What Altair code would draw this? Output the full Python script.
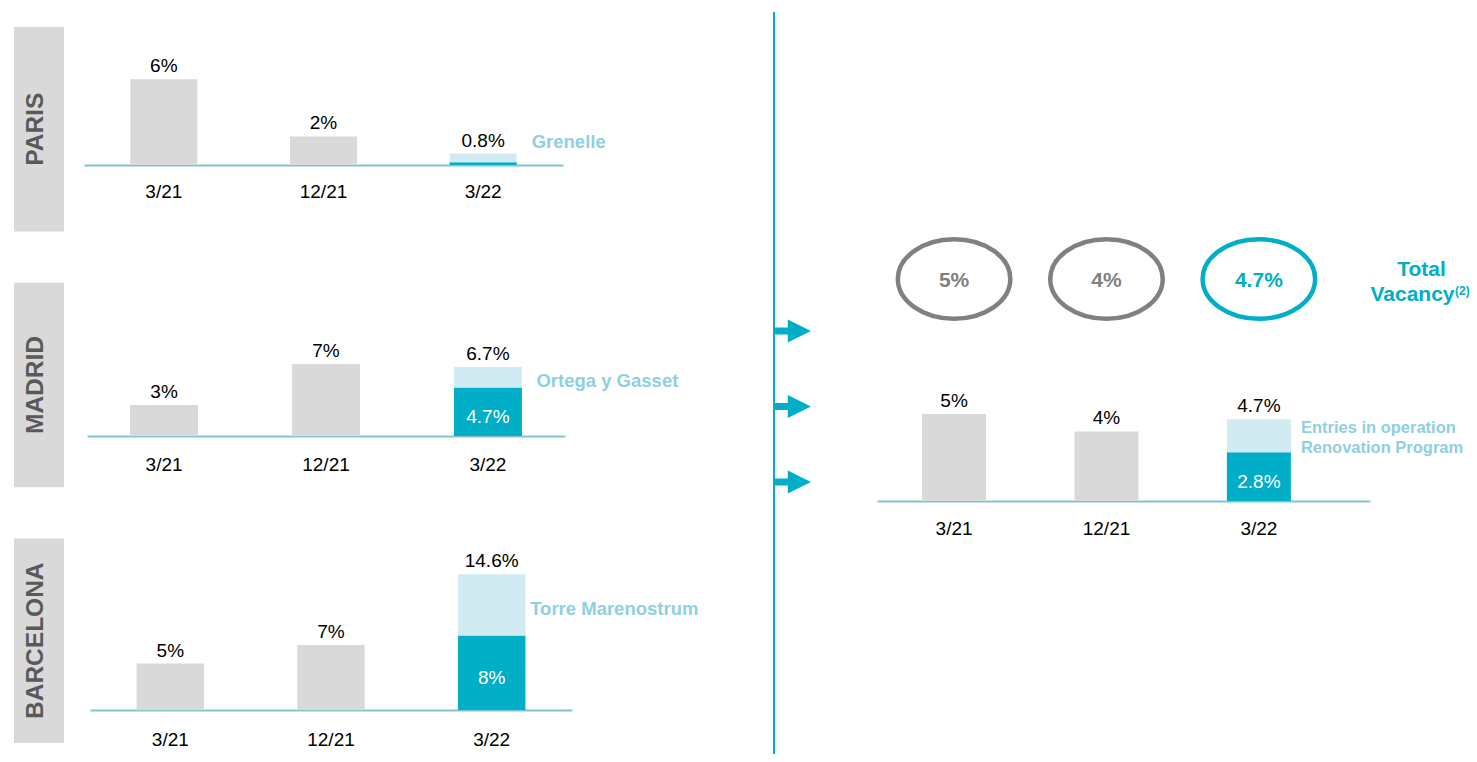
import altair as alt
import pandas as pd

# ---------------- data ----------------
periods = ["3/21", "12/21", "3/22"]
cities = ["PARIS", "MADRID", "BARCELONA"]

paris_total = [6, 2, 0.8]
paris_base = 0.2
madrid_total = [3, 7, 6.7]
madrid_base = 4.7
barcelona_total = [5, 7, 14.6]
barcelona_base = 8
overall_total = [5, 4, 4.7]
overall_base = 2.8

paris_note = "Grenelle"
madrid_note = "Ortega y Gasset"
barcelona_note = "Torre Marenostrum"
overall_note = "Entries in operation\nRenovation Program"

total_vacancy = [5, 4, 4.7]
arrows = ["a1", "a2", "a3"]

# ---------------- style ----------------
FONT = "Liberation Sans"
TEAL = "#00AEC7"
LIGHT = "#D2EAF1"
GREYBAR = "#D9D9D9"
NOTE = "#8FCFE2"
LINE = "#83C4D4"
CGREY = "#808080"
W, H = 1461, 746
D = 16


def fmt(v):
    return f"{v:g}%"


def panel(totals, base, note, rng, po, align, baseline, ppu, lpad,
          note_dx, note_dy, note_size, inner, circles=False):
    rows = []
    for p, t in zip(periods, totals):
        if p == periods[-1]:
            rows.append(dict(period=p, seg="base", val=base, ord=0))
            rows.append(dict(period=p, seg="ext", val=round(t - base, 3), ord=1))
        else:
            rows.append(dict(period=p, seg="past", val=t, ord=0))
    bars_df = pd.DataFrame(rows)
    lab_df = pd.DataFrame({"period": periods, "total": totals,
                           "label": [fmt(t) for t in totals]})
    cur_df = pd.DataFrame({"period": [periods[-1]],
                           "mid_base": [base / 2],
                           "mid_ext": [(base + totals[-1]) / 2],
                           "base_label": [fmt(base)],
                           "note": [note]})

    xs = alt.Scale(type="band", domain=periods, range=rng, paddingInner=0.58,
                   paddingOuter=po, align=align)
    xax = alt.Axis(title=None, orient="bottom", offset=baseline - H,
                   ticks=False, tickSize=0, domainColor=LINE, domainWidth=2,
                   labelColor="#000000", labelFontSize=19, labelPadding=lpad,
                   labelAngle=0, labelFont=FONT, grid=False)
    ys = alt.Scale(domain=[0, D], range=[baseline, baseline - D * ppu],
                   nice=False, zero=True)

    def X():
        return alt.X("period:N", scale=xs, axis=xax)

    bars = alt.Chart(bars_df).mark_bar().encode(
        x=X(),
        y=alt.Y("val:Q", stack="zero", scale=ys, axis=None),
        color=alt.Color("seg:N", scale=alt.Scale(domain=["past", "base", "ext"],
                                                 range=[GREYBAR, TEAL, LIGHT]),
                        legend=None),
        order=alt.Order("ord:Q"),
    )
    top = alt.Chart(lab_df).mark_text(
        baseline="alphabetic", dy=-7, fontSize=19, color="#000000", font=FONT
    ).encode(x=X(), y=alt.Y("total:Q", scale=ys, axis=None), text="label:N")
    nt = alt.Chart(cur_df).mark_text(
        align="left", baseline="middle", dx=note_dx, dy=note_dy, fontSize=note_size,
        fontWeight="bold", color=NOTE, font=FONT, lineBreak="\n", lineHeight=20.5
    ).encode(x=X(), y=alt.Y("mid_ext:Q", scale=ys, axis=None), text="note:N")
    layers = [bars, top, nt]
    if inner:
        layers.append(alt.Chart(cur_df).mark_text(
            baseline="middle", dy=5, fontSize=19, color="#FFFFFF", font=FONT
        ).encode(x=X(), y=alt.Y("mid_base:Q", scale=ys, axis=None),
                 text="base_label:N"))
    if circles:
        cdf = pd.DataFrame({"period": periods,
                            "label": [fmt(v) for v in total_vacancy],
                            "kind": ["past", "past", "current"]})
        ell = "M -1 0 A 1 0.707 0 1 0 1 0 A 1 0.707 0 1 0 -1 0 Z"
        layers.append(alt.Chart(cdf).mark_point(
            shape=ell, size=112.5 ** 2, filled=False, strokeWidth=4.5, opacity=1
        ).encode(x=X(), y=alt.value(271),
                 color=alt.condition("datum.kind == 'current'",
                                     alt.value(TEAL), alt.value(CGREY))))
        layers.append(alt.Chart(cdf).mark_text(
            baseline="middle", fontSize=21, fontWeight="bold", font=FONT
        ).encode(x=X(), y=alt.value(273), text="label:N",
                 color=alt.condition("datum.kind == 'current'",
                                     alt.value(TEAL), alt.value(CGREY))))
    return alt.layer(*layers)


paris = panel(paris_total, paris_base, paris_note, [76, 555], 0.29, 0.5,
              157, 14.3, 17, 48.5, -16, 18.5, False)
madrid = panel(madrid_total, madrid_base, madrid_note, [79, 557], 0.266, 0.5,
               428, 10.3, 19, 48.5, 4, 18.5, True)
barcelona = panel(barcelona_total, barcelona_base, barcelona_note, [82, 564], 0.29, 0.5,
                  702, 9.3, 20, 38.5, 4, 18.5, True)
overall = panel(overall_total, overall_base, overall_note, [869, 1362], 0.4075, 0.363,
                493, 17.4, 18, 42, -8, 16.5, True, circles=True)

# ---------------- decorations ----------------
city_df = pd.DataFrame({"city": cities})
cy = alt.Scale(type="band", domain=cities, range=[19, 735],
               paddingInner=0.2, paddingOuter=0)
boxes = alt.Chart(city_df).mark_rect(color="#D9D9D9").encode(
    y=alt.Y("city:N", scale=cy, axis=None), x=alt.value(6), x2=alt.value(56))
city_txt = alt.Chart(city_df).mark_text(
    angle=270, fontSize=24.5, fontWeight="bold", color="#595959", font=FONT,
    baseline="middle", align="center"
).encode(y=alt.Y("city:N", scale=cy, axis=None), x=alt.value(27.5), text="city:N")
city_layer = alt.layer(boxes, city_txt)

one = pd.DataFrame({"k": [0]})
divider = alt.Chart(one).mark_rule(color=TEAL, strokeWidth=2).encode(
    x=alt.value(766), y=alt.value(4), y2=alt.value(756))

arrow_path = ("M -1 -0.19 L -0.29 -0.19 L -0.29 -0.64 L 1 0 L -0.29 0.64 "
              "L -0.29 0.19 L -1 0.19 Z")
arrow_layer = alt.Chart(pd.DataFrame({"arrow": arrows})).mark_point(
    shape=arrow_path, size=36 ** 2, filled=True, color=TEAL, opacity=1, strokeWidth=0
).encode(y=alt.Y("arrow:N", scale=alt.Scale(type="point", domain=arrows,
                                            range=[323, 474], padding=0), axis=None),
         x=alt.value(785))

tv1 = alt.Chart(pd.DataFrame({"t": ["Total"]})).mark_text(
    fontSize=21, fontWeight="bold", color=TEAL, font=FONT, align="center",
    baseline="alphabetic").encode(x=alt.value(1413.5), y=alt.value(268), text="t:N")
tv2 = alt.Chart(pd.DataFrame({"t": ["Vacancy"]})).mark_text(
    fontSize=21, fontWeight="bold", color=TEAL, font=FONT, align="center",
    baseline="alphabetic").encode(x=alt.value(1404.5), y=alt.value(293), text="t:N")
tv3 = alt.Chart(pd.DataFrame({"t": ["(2)"]})).mark_text(
    fontSize=12, fontWeight="bold", color=TEAL, font=FONT, align="left",
    baseline="alphabetic").encode(x=alt.value(1447), y=alt.value(287), text="t:N")

chart = alt.layer(
    city_layer, divider, arrow_layer, paris, madrid, barcelona, overall,
    tv1, tv2, tv3
).resolve_scale(x="independent", y="independent").properties(
    width=W, height=H, padding=0, autosize=alt.AutoSizeParams(type="none")
).configure(font=FONT, view=alt.ViewConfig(stroke=None))

chart.save("out.html", embed_options={"renderer": "svg", "actions": False})
